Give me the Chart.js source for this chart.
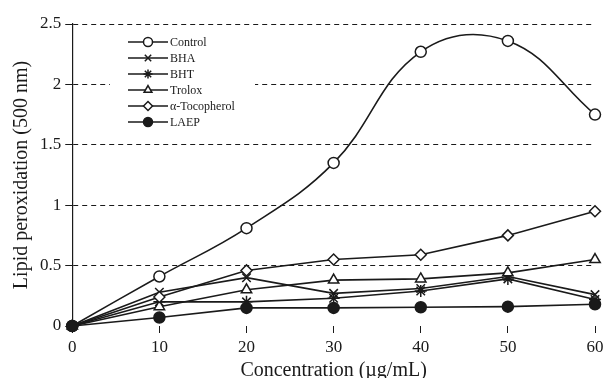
<!DOCTYPE html>
<html>
<head>
<meta charset="utf-8">
<script src="https://cdn.jsdelivr.net/npm/chart.js@4/dist/chart.umd.min.js"></script>
<style>
  html, body { margin: 0; padding: 0; background: #fff; }
  #wrap { width: 605px; height: 378px; position: relative; }
</style>
</head>
<body>
<div id="wrap"><canvas id="chart"></canvas></div>
<script>
// concentraciones (µg/mL)
const concentrations = [0, 10, 20, 30, 40, 50, 60];

// valores
const control    = [0, 0.41, 0.81, 1.35, 2.27, 2.36, 1.75];
const bha        = [0, 0.28, 0.40, 0.27, 0.31, 0.41, 0.26];
const bht        = [0, 0.20, 0.20, 0.23, 0.29, 0.39, 0.22];
const trolox     = [0, 0.16, 0.30, 0.38, 0.39, 0.44, 0.55];
const tocopherol = [0, 0.24, 0.46, 0.55, 0.59, 0.75, 0.95];
const laep       = [0, 0.07, 0.15, 0.15, 0.155, 0.16, 0.18];

const yTicks = [0, 0.5, 1, 1.5, 2, 2.5];

const INK = "#1a1a1a";
const FONT = "'Liberation Serif', 'Times New Roman', serif";

const toPts = arr => arr.map((v, i) => ({ x: concentrations[i], y: v }));

function series(label, data, style, radius, fill, tension) {
  return {
    label,
    data: toPts(data),
    borderColor: INK,
    borderWidth: 1.6,
    pointStyle: style,
    pointRadius: radius,
    pointBorderWidth: 1.5,
    pointBorderColor: INK,
    pointBackgroundColor: fill ? INK : "#fff",
    tension: tension || 0,
    clip: false
  };
}

const datasets = [
  series("Control", control, "circle", 5.5, false, 0.4),
  series("BHA", bha, "crossRot", 6, false),
  series("BHT", bht, "star", 6, false),
  series("Trolox", trolox, "triangle", 6, false),
  series("α-Tocopherol", tocopherol, "rectRot", 5.5, false),
  series("LAEP", laep, "circle", 5.5, true)
];
// la última serie se dibuja encima (LAEP)
datasets.forEach((ds, i) => { ds.order = datasets.length - i; });

// leyenda propia: línea + marcador, con fondo blanco que tapa la rejilla
const boxLegend = {
  id: "boxLegend",
  beforeDatasetsDraw(chart) {
    const ctx = chart.ctx;
    ctx.save();
    ctx.fillStyle = "#fff";
    ctx.fillRect(110, 30, 145, 104);
    chart.data.datasets.forEach((ds, i) => {
      const y = 42 + i * 16;
      ctx.strokeStyle = INK;
      ctx.lineWidth = 1.6;
      ctx.beginPath();
      ctx.moveTo(128, y);
      ctx.lineTo(168, y);
      ctx.stroke();
      ctx.fillStyle = ds.pointBackgroundColor;
      ctx.lineWidth = 1.5;
      Chart.helpers.drawPoint(ctx, { pointStyle: ds.pointStyle, radius: 4.5, borderWidth: 1.5 }, 148, y);
      ctx.fillStyle = INK;
      ctx.font = "12px " + FONT;
      ctx.textBaseline = "middle";
      ctx.fillText(ds.label, 170, y + 1);
    });
    ctx.restore();
  }
};

new Chart(document.getElementById("chart"), {
  type: "line",
  data: { datasets },
  plugins: [boxLegend],
  options: {
    responsive: true,
    maintainAspectRatio: false,
    animation: false,
    layout: { padding: { top: 24, right: 10, left: 4, bottom: -2 } },
    plugins: { legend: { display: false }, tooltip: { enabled: false } },
    scales: {
      x: {
        type: "linear",
        min: 0, max: 60,
        afterFit: s => { s.paddingRight = 0; },
        ticks: { stepSize: 10, color: INK, font: { family: FONT, size: 17, lineHeight: 1 }, padding: 6, maxRotation: 0 },
        grid: { drawOnChartArea: false, drawTicks: true, tickLength: 7, color: INK, lineWidth: 1 },
        border: { display: false },
        title: { display: true, text: "Concentration (µg/mL)", color: INK, font: { family: FONT, size: 20, lineHeight: 0.9 }, padding: { top: 0, bottom: 0 } }
      },
      y: {
        min: 0, max: 2.5,
        afterBuildTicks: axis => { axis.ticks = yTicks.map(v => ({ value: v })); },
        ticks: { color: INK, font: { family: FONT, size: 17 }, padding: 4, callback: v => String(v) },
        grid: {
          color: c => c.tick && c.tick.value === 0 ? "rgba(0,0,0,0)" : INK,
          lineWidth: 1,
          tickLength: 7,
          tickColor: INK,
          tickBorderDash: []
        },
        border: { display: true, color: INK, width: 1.2, dash: [5, 4] },
        title: { display: true, text: "Lipid peroxidation (500 nm)", color: INK, font: { family: FONT, size: 20 }, padding: { top: 6, bottom: 2 } }
      }
    }
  }
});
</script>
</body>
</html>
